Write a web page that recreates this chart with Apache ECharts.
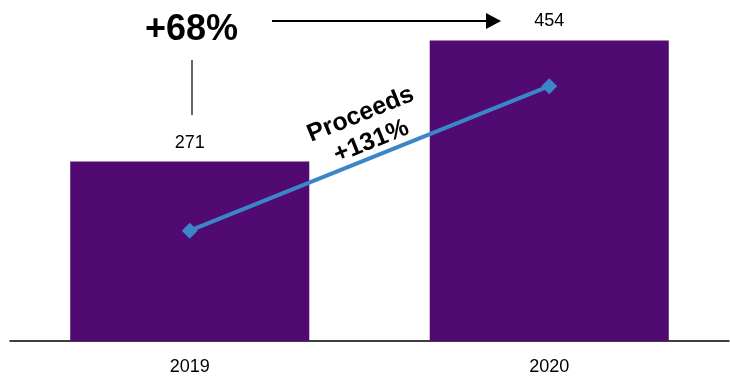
<!DOCTYPE html>
<html>
<head>
<meta charset="utf-8">
<script src="https://cdn.jsdelivr.net/npm/echarts@6/dist/echarts.min.js"></script>
<style>
  html, body { margin: 0; padding: 0; background: #fff; }
  #chart { width: 730px; height: 384px; }
</style>
</head>
<body>
<div id="chart"></div>
<script>
  const years = ['2019', '2020'];
  const revenue = [271, 454];
  const proceeds = [100, 231];

  const chart = echarts.init(document.getElementById('chart'));
  const option = {
    animation: false,
    backgroundColor: '#fff',
    grid: { left: 10, right: 1, top: 10, bottom: 43 },
    xAxis: {
      type: 'category',
      data: years,
      axisLine: { lineStyle: { color: '#000', width: 1.5 } },
      axisTick: { show: false },
      axisLabel: { color: '#000', fontSize: 18, fontFamily: 'Liberation Sans', margin: 17 }
    },
    yAxis: [
      { type: 'value', min: 0, max: 500, show: false, splitLine: { show: false } },
      { type: 'value', min: 0, max: 300, show: false, splitLine: { show: false } }
    ],
    series: [
      {
        type: 'bar',
        data: revenue,
        barWidth: '66.5%',
        itemStyle: { color: '#500a72' },
        label: {
          show: true, position: 'top', distance: 10,
          color: '#000', fontSize: 18, fontFamily: 'Liberation Sans'
        }
      },
      {
        type: 'line',
        yAxisIndex: 1,
        data: proceeds,
        symbol: 'diamond',
        symbolSize: 16,
        lineStyle: { color: '#3b86c9', width: 4 },
        itemStyle: { color: '#3b86c9' }
      }
    ],
    graphic: [
      {
        type: 'text', left: 145, top: 12,
        style: { text: '+68%', font: 'bold 36px Liberation Sans', fill: '#000' }
      },
      {
        type: 'line',
        shape: { x1: 192, y1: 60, x2: 192, y2: 115 },
        style: { stroke: '#000', lineWidth: 1.2 }
      },
      {
        type: 'line',
        shape: { x1: 272, y1: 21, x2: 488, y2: 21 },
        style: { stroke: '#000', lineWidth: 2 }
      },
      {
        type: 'polygon',
        shape: { points: [[486, 13], [501, 21], [486, 29]] },
        style: { fill: '#000' }
      },
      {
        type: 'text',
        x: 366, y: 128,
        rotation: 22 * Math.PI / 180,
        style: {
          text: 'Proceeds\n+131%', font: 'bold 25px Liberation Sans', fill: '#000',
          align: 'center', verticalAlign: 'middle', lineHeight: 29
        }
      }
    ]
  };
  chart.setOption(option);
  window.addEventListener('resize', function () {
    chart.resize();
  });
</script>
</body>
</html>
